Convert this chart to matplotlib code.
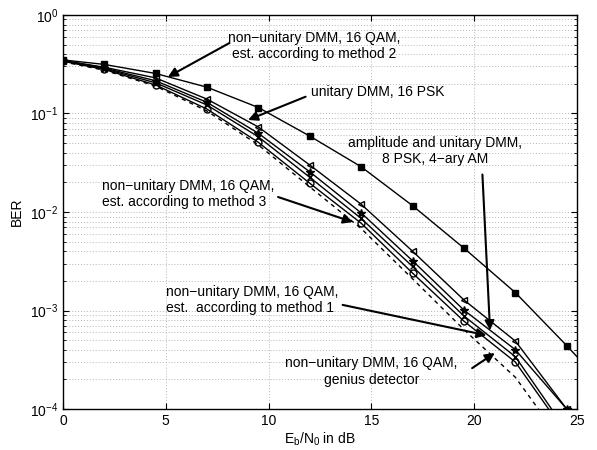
import numpy as np
import matplotlib
matplotlib.use('Agg')
import matplotlib.pyplot as plt

plt.rcParams['font.family'] = ['Liberation Sans', 'DejaVu Sans']
plt.rcParams['mathtext.fontset'] = 'custom'
plt.rcParams['mathtext.rm'] = 'Liberation Sans'
plt.rcParams['mathtext.it'] = 'Liberation Sans:italic'
plt.rcParams['font.size'] = 10

# Eb/N0 in dB
snr = [0, 2, 4.5, 7, 9.5, 12, 14.5, 17, 19.5, 22, 24.5]
snr_m2 = [0, 2, 4.5, 7, 9.5, 12, 14.5, 17, 19.5, 22, 24.5, 27]

# BER curves
ber_method2 = [0.35, 0.315, 0.255, 0.185, 0.115, 0.059, 0.0288, 0.0116, 0.0043, 0.00152, 0.00044, 0.00012]
ber_psk16 = [0.345, 0.295, 0.23, 0.14, 0.073, 0.030, 0.012, 0.0040, 0.00128, 0.00049, 0.0001]
ber_amp = [0.345, 0.29, 0.215, 0.13, 0.063, 0.0256, 0.0098, 0.0032, 0.00101, 0.00040, 0.0001]
ber_method1 = [0.34, 0.285, 0.205, 0.122, 0.058, 0.0225, 0.0086, 0.0028, 0.00088, 0.00034, 0.00006]
ber_method3 = [0.34, 0.28, 0.195, 0.111, 0.051, 0.0196, 0.0077, 0.0024, 0.00078, 0.00030, 0.000055]
ber_genius = [0.335, 0.275, 0.19, 0.106, 0.048, 0.018, 0.0068, 0.0021, 0.00064, 0.00021, 0.00004]

fig = plt.figure(figsize=(5.97, 4.5), dpi=100)
ax = fig.add_axes([0.1055, 0.0911, 0.861, 0.8756])

ax.semilogy(snr_m2, ber_method2, 'k-', marker='s', mfc='k', ms=5, lw=1)
ax.semilogy(snr, ber_psk16, 'k-', marker='<', mfc='none', ms=5, lw=1)
ax.semilogy(snr, ber_amp, 'k-', marker='*', mfc='k', ms=6, lw=1)
ax.semilogy(snr, ber_method1, 'k-', marker='x', ms=4, lw=1)
ax.semilogy(snr, ber_method3, 'k-', marker='o', mfc='none', ms=5, lw=1)
ax.semilogy(snr, ber_genius, 'k--', lw=1, dashes=(3, 3))

ax.set_xlim(0, 25)
ax.set_ylim(1e-4, 1)
ax.set_xticks([0, 5, 10, 15, 20, 25])
ax.grid(True, which='major', color='#b4b4b4', lw=0.7, dashes=(1, 2))
ax.grid(True, which='minor', axis='y', color='#b4b4b4', lw=0.7, dashes=(1, 2))
ax.tick_params(which='both', direction='in', top=True, right=True)
ax.tick_params(which='major', length=4)
ax.tick_params(which='minor', length=2)
for s in ax.spines.values():
    s.set_linewidth(1.0)

ax.set_xlabel(r'E$_\mathrm{b}$/N$_\mathrm{0}$ in dB', labelpad=2)
ax.set_ylabel('BER', labelpad=4)

ap = dict(arrowstyle='-|>', color='k', lw=1.5, mutation_scale=14,
          shrinkA=0, shrinkB=0)

ax.annotate('', xy=(5.1, 0.235), xytext=(8.1, 0.52), arrowprops=ap)
ax.text(12.2, 0.48, 'non\u2212unitary DMM, 16 QAM,\nest. according to method 2',
        ha='center', va='center')
ax.annotate('', xy=(9.0, 0.086), xytext=(11.8, 0.148), arrowprops=ap)
ax.text(12.05, 0.165, 'unitary DMM, 16 PSK', ha='left', va='center')
ax.annotate('', xy=(20.77, 6.3e-4), xytext=(20.4, 0.024), arrowprops=ap)
ax.text(18.1, 0.0417, 'amplitude and unitary DMM,\n8 PSK, 4\u2212ary AM',
        ha='center', va='center')
ax.annotate('', xy=(14.1, 0.0079), xytext=(10.46, 0.0142), arrowprops=ap)
ax.text(1.9, 0.0152, 'non\u2212unitary DMM, 16 QAM,\nest. according to method 3',
        ha='left', va='center')
ax.annotate('', xy=(20.6, 5.6e-4), xytext=(13.6, 0.00114), arrowprops=ap)
ax.text(5.0, 0.00128, 'non\u2212unitary DMM, 16 QAM,\nest.  according to method 1',
        ha='left', va='center')
ax.annotate('', xy=(21.0, 3.7e-4), xytext=(19.9, 2.6e-4), arrowprops=ap)
ax.text(15.0, 2.4e-4, 'non\u2212unitary DMM, 16 QAM,\ngenius detector',
        ha='center', va='center')

fig.savefig('out.png', dpi=100)
